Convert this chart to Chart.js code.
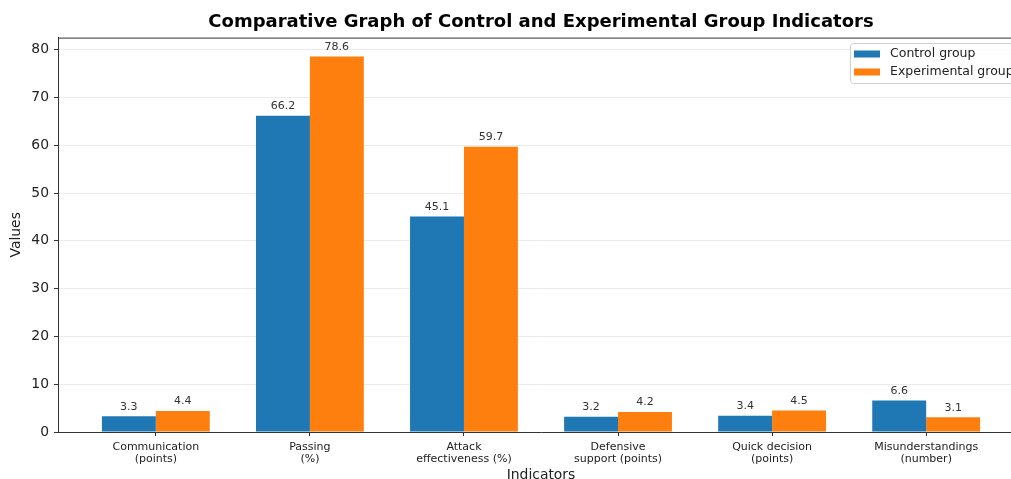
<!DOCTYPE html>
<html>
<head>
<meta charset="utf-8">
<script src="https://cdn.jsdelivr.net/npm/chart.js@4.4.1/dist/chart.umd.min.js"></script>
<style>
  html, body { margin:0; padding:0; background:#fff; overflow:hidden; }
  #wrap { width:1040px; height:490px; }
</style>
</head>
<body>
<div id="wrap"><canvas id="chart"></canvas></div>
<script>
const categories = ["Communication\n(points)", "Passing\n(%)", "Attack\neffectiveness (%)", "Defensive\nsupport (points)", "Quick decision\n(points)", "Misunderstandings\n(number)"];
const controlValues = [3.3, 66.2, 45.1, 3.2, 3.4, 6.6];
const experimentalValues = [4.4, 78.6, 59.7, 4.2, 4.5, 3.1];
const yTicks = [0, 10, 20, 30, 40, 50, 60, 70, 80];
const seriesNames = ["Control group", "Experimental group"];
const seriesColors = ["#1f77b4", "#ff7f0e"];

const spine = "#333";
Chart.defaults.font.family = "'DejaVu Sans', sans-serif";
Chart.defaults.color = "#222";

// numbers above each bar
const valueLabels = {
  id: "valueLabels",
  afterDatasetsDraw(chart) {
    const ctx = chart.ctx;
    ctx.save();
    ctx.font = "11px 'DejaVu Sans'";
    ctx.fillStyle = "#333";
    ctx.textAlign = "center";
    ctx.textBaseline = "bottom";
    chart.data.datasets.forEach((ds, i) => {
      chart.getDatasetMeta(i).data.forEach((bar, j) => {
        ctx.fillText(ds.data[j].y.toFixed(1), bar.x, bar.y - 4);
      });
    });
    ctx.restore();
  }
};

// top spine (right one falls outside the window)
const frame = {
  id: "frame",
  afterDraw(chart) {
    const a = chart.chartArea, ctx = chart.ctx;
    ctx.save();
    ctx.strokeStyle = spine;
    ctx.lineWidth = 1;
    ctx.beginPath();
    ctx.moveTo(a.left, a.top + 0.5);
    ctx.lineTo(a.right, a.top + 0.5);
    ctx.lineTo(a.right, a.bottom);
    ctx.stroke();
    ctx.restore();
  }
};

// matplotlib-style legend box, upper right inside the axes
const boxLegend = {
  id: "boxLegend",
  afterDraw(chart) {
    const ctx = chart.ctx;
    const x = 850.5, y = 43.5, w = 180, h = 40;
    ctx.save();
    ctx.beginPath();
    ctx.roundRect(x, y, w, h, 3);
    ctx.fillStyle = "rgba(255,255,255,0.85)";
    ctx.fill();
    ctx.strokeStyle = "#d0d0d0";
    ctx.stroke();
    ctx.font = "12.5px 'DejaVu Sans'";
    ctx.textBaseline = "middle";
    chart.data.datasets.forEach((ds, i) => {
      const cy = 54 + i * 18;
      ctx.fillStyle = ds.backgroundColor;
      ctx.fillRect(854, cy - 3.5, 26, 7);
      ctx.fillStyle = "#222";
      ctx.fillText(ds.label, 890, cy);
    });
    ctx.restore();
  }
};

new Chart(document.getElementById("chart"), {
  type: "bar",
  data: {
    datasets: [
      { label: seriesNames[0], data: controlValues.map((v, i) => ({ x: i, y: v })), backgroundColor: seriesColors[0] },
      { label: seriesNames[1], data: experimentalValues.map((v, i) => ({ x: i, y: v })), backgroundColor: seriesColors[1] }
    ]
  },
  options: {
    responsive: true,
    maintainAspectRatio: false,
    animation: false,
    categoryPercentage: 0.7,
    barPercentage: 1,
    layout: { padding: { left: 0, right: 16, top: 0, bottom: 0 } },
    plugins: {
      legend: { display: false },
      tooltip: { enabled: false },
      title: {
        display: true,
        fullSize: false,
        text: "Comparative Graph of Control and Experimental Group Indicators",
        color: "#000",
        font: { size: 18, weight: "bold" },
        padding: { top: 12, bottom: 4 }
      }
    },
    scales: {
      x: {
        type: "linear",
        min: -0.635,
        max: 5.635,
        offset: false,
        afterBuildTicks: s => { s.ticks = categories.map((_, i) => ({ value: i })); },
        afterFit: s => { s.height = 58; },
        ticks: {
          autoSkip: false,
          maxRotation: 0,
          padding: 5,
          color: "#222",
          font: { size: 11, lineHeight: 1.1 },
          callback: v => categories[v] ? categories[v].split("\n") : ""
        },
        grid: { offset: false, drawOnChartArea: false, tickLength: 4, tickColor: spine },
        border: { color: spine, width: 1 },
        title: { display: true, text: "Indicators", color: "#222", font: { size: 13.9 }, padding: { top: 0, bottom: 6.5 } }
      },
      y: {
        min: 0,
        max: 82.53,
        afterBuildTicks: s => { s.ticks = yTicks.map(v => ({ value: v })); },
        afterFit: s => { s.width = 58; },
        ticks: { padding: 5, color: "#222", font: { size: 13.9 } },
        grid: { color: "#ebebeb", tickLength: 4, tickColor: spine },
        border: { color: spine, width: 1 },
        title: { display: true, text: "Values", color: "#222", font: { size: 13.9 }, padding: { top: 8.5, bottom: 0 } }
      }
    }
  },
  plugins: [valueLabels, frame, boxLegend]
});
</script>
</body>
</html>
